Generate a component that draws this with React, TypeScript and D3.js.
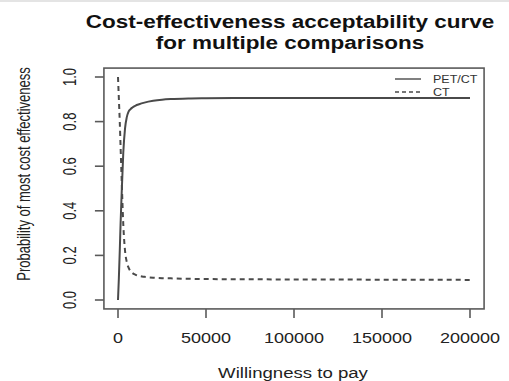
import React, { useEffect, useRef } from "react";
import * as d3 from "d3";

const wtp = [0, 500, 1000, 1500, 2000, 3000, 4000, 5000, 6000, 7000, 8000, 10000, 12000, 15000, 20000, 25000, 30000, 40000, 50000, 75000, 100000, 125000, 150000, 175000, 200000];
const petct = [0, 0.1, 0.22, 0.35, 0.46, 0.66, 0.77, 0.82, 0.845, 0.855, 0.862, 0.872, 0.878, 0.885, 0.893, 0.898, 0.901, 0.904, 0.905, 0.906, 0.906, 0.906, 0.906, 0.906, 0.906];
const ct = [1.0, 0.9, 0.8, 0.68, 0.56, 0.34, 0.22, 0.17, 0.145, 0.13, 0.122, 0.113, 0.108, 0.104, 0.1, 0.098, 0.097, 0.095, 0.094, 0.093, 0.092, 0.092, 0.091, 0.091, 0.09];

const xTicks = [0, 50000, 100000, 150000, 200000];
const yTicks = [0, 0.2, 0.4, 0.6, 0.8, 1.0];
const seriesNames = ["PET/CT", "CT"];
const titleLines = ["Cost-effectiveness acceptability curve", "for multiple comparisons"];

const FONT = "'Liberation Sans', Arial, sans-serif";

export default function App() {
  const svgRef = useRef<SVGSVGElement>(null);

  useEffect(() => {
    const width = 509;
    const height = 381;
    const svg = d3.select(svgRef.current);
    svg.selectAll("*").remove();
    svg.attr("width", width).attr("height", height);

    svg.append("rect").attr("width", width).attr("height", height).attr("fill", "#fff");
    svg.append("line")
      .attr("x1", 0).attr("x2", width).attr("y1", 1).attr("y2", 1)
      .attr("stroke", "#e4e4e4").attr("stroke-width", 2);

    const x = d3.scaleLinear().domain([0, 200000]).range([118, 470]);
    const y = d3.scaleLinear().domain([0, 1]).range([300, 77]);

    // R-style 4% extension for the plot box
    const bx0 = x(-8000), bx1 = x(208000);
    const by0 = y(-0.04), by1 = y(1.04);

    const axisColor = "#5a5a5a";
    const lineColor = "#4a4a4a";

    svg.append("rect")
      .attr("x", bx0).attr("y", by1)
      .attr("width", bx1 - bx0).attr("height", by0 - by1)
      .attr("fill", "none").attr("stroke", axisColor).attr("stroke-width", 1.6);

    // x ticks
    svg.selectAll(".xt").data(xTicks).enter().append("line")
      .attr("x1", d => x(d)).attr("x2", d => x(d))
      .attr("y1", by0).attr("y2", by0 + 9)
      .attr("stroke", axisColor).attr("stroke-width", 1.6);
    svg.selectAll(".xl").data(xTicks).enter().append("text")
      .attr("transform", d => `translate(${x(d)},343) scale(1.2,1)`)
      .attr("text-anchor", "middle")
      .attr("font-family", FONT).attr("font-size", 15).attr("fill", "#222")
      .text(d => String(d));

    // y ticks
    svg.selectAll(".yt").data(yTicks).enter().append("line")
      .attr("x1", bx0 - 9).attr("x2", bx0)
      .attr("y1", d => y(d)).attr("y2", d => y(d))
      .attr("stroke", axisColor).attr("stroke-width", 1.6);
    svg.selectAll(".yl").data(yTicks).enter().append("text")
      .attr("transform", d => `translate(76,${y(d)}) scale(1.4,1) rotate(-90)`)
      .attr("text-anchor", "middle")
      .attr("font-family", FONT).attr("font-size", 13).attr("fill", "#222")
      .text(d => d.toFixed(1));

    // axis titles
    svg.append("text")
      .attr("transform", `translate(293,378) scale(1.2,1)`)
      .attr("text-anchor", "middle")
      .attr("font-family", FONT).attr("font-size", 15.5).attr("fill", "#222")
      .text("Willingness to pay");
    svg.append("text")
      .attr("transform", `translate(30,174) scale(1.4,1) rotate(-90)`)
      .attr("text-anchor", "middle")
      .attr("font-family", FONT).attr("font-size", 13).attr("fill", "#222")
      .text("Probability of most cost effectiveness");

    // title
    svg.selectAll(".title").data(titleLines).enter().append("text")
      .attr("transform", (d, i) => `translate(290,${28 + i * 21}) scale(1.25,1)`)
      .attr("text-anchor", "middle")
      .attr("font-family", FONT).attr("font-size", 18).attr("font-weight", "bold").attr("fill", "#111")
      .text(d => d);

    const line = d3.line<[number, number]>()
      .x(d => x(d[0]))
      .y(d => y(d[1]))
      .curve(d3.curveMonotoneX);

    svg.append("path")
      .datum(wtp.map((w, i) => [w, petct[i]] as [number, number]))
      .attr("fill", "none").attr("stroke", lineColor).attr("stroke-width", 2)
      .attr("d", line);

    svg.append("path")
      .datum(wtp.map((w, i) => [w, ct[i]] as [number, number]))
      .attr("fill", "none").attr("stroke", lineColor).attr("stroke-width", 2)
      .attr("stroke-dasharray", "5,4")
      .attr("d", line);

    // legend
    const legend = svg.append("g");
    seriesNames.forEach((name, i) => {
      const ly = 79 + i * 13;
      legend.append("line")
        .attr("x1", 395).attr("x2", 421).attr("y1", ly).attr("y2", ly)
        .attr("stroke", lineColor).attr("stroke-width", 1.4)
        .attr("stroke-dasharray", i === 1 ? "4,3" : null);
      legend.append("text")
        .attr("transform", `translate(433,${ly + 3.5}) scale(1.25,1)`)
        .attr("font-family", FONT).attr("font-size", 10).attr("fill", "#333")
        .text(name);
    });
  }, []);

  return (
    <div style={{ position: "absolute", left: 0, top: 0 }}>
      <svg ref={svgRef} style={{ display: "block" }}></svg>
    </div>
  );
}
